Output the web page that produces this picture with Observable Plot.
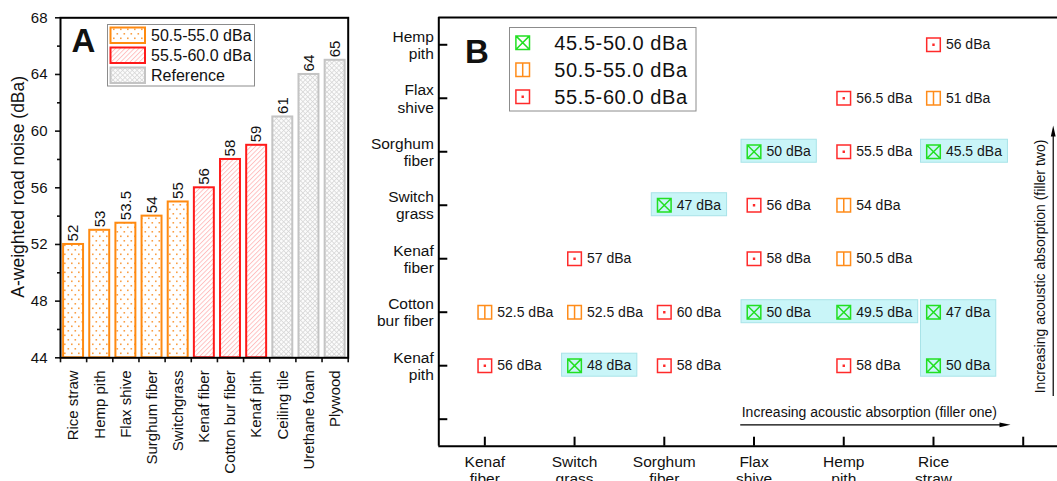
<!DOCTYPE html>
<html><head><meta charset="utf-8">
<script src="https://cdn.jsdelivr.net/npm/d3@7"></script>
<script src="https://cdn.jsdelivr.net/npm/@observablehq/plot@0.6"></script>
<style>
html,body{margin:0;padding:0;background:#fff;overflow:hidden}
#wrap{position:relative;width:1057px;height:481px;overflow:hidden}
#a{position:absolute;left:0;top:0}
#b{position:absolute;left:360px;top:0}
</style></head><body><div id="wrap"><div id="a"></div><div id="b"></div></div>
<script>
// ---------------- DATA ----------------
// Panel A
const materialsA = ["Rice straw","Hemp pith","Flax shive","Surghum fiber","Switchgrass","Kenaf fiber","Cotton bur fiber","Kenaf pith","Ceiling tile","Urethane foam","Plywood"];
const noiseA = [52,53,53.5,54,55,56,58,59,61,64,65];
const groupA = ["50.5-55.0 dBa","50.5-55.0 dBa","50.5-55.0 dBa","50.5-55.0 dBa","50.5-55.0 dBa","55.5-60.0 dBa","55.5-60.0 dBa","55.5-60.0 dBa","Reference","Reference","Reference"];
const groupsA = ["50.5-55.0 dBa","55.5-60.0 dBa","Reference"];
const yTicksA = [44,48,52,56,60,64,68];
const yMinorA = [46,50,54,58,62,66];
const yLabelA = "A-weighted road noise (dBa)";

// Panel B
const colsB = ["Kenaf fiber","Switch grass","Sorghum fiber","Flax shive","Hemp pith","Rice straw"];
const colLabelsB = ["Kenaf\nfiber","Switch\ngrass","Sorghum\nfiber","Flax\nshive","Hemp\npith","Rice\nstraw"];
const rowsB = ["Kenaf pith","Cotton bur fiber","Kenaf fiber","Switch grass","Sorghum fiber","Flax shive","Hemp pith"];
const rowLabelsB = ["Kenaf\npith","Cotton\nbur fiber","Kenaf\nfiber","Switch\ngrass","Sorghum\nfiber","Flax\nshive","Hemp\npith"];
const fillerTwo = ["Hemp pith","Flax shive","Flax shive","Sorghum fiber","Sorghum fiber","Sorghum fiber","Switch grass","Switch grass","Switch grass","Kenaf fiber","Kenaf fiber","Kenaf fiber","Cotton bur fiber","Cotton bur fiber","Cotton bur fiber","Cotton bur fiber","Cotton bur fiber","Cotton bur fiber","Kenaf pith","Kenaf pith","Kenaf pith","Kenaf pith","Kenaf pith"];
const fillerOne = ["Rice straw","Hemp pith","Rice straw","Flax shive","Hemp pith","Rice straw","Sorghum fiber","Flax shive","Hemp pith","Switch grass","Flax shive","Hemp pith","Kenaf fiber","Switch grass","Sorghum fiber","Flax shive","Hemp pith","Rice straw","Kenaf fiber","Switch grass","Sorghum fiber","Hemp pith","Rice straw"];
const noiseB = [56,56.5,51,50,55.5,45.5,47,56,54,57,58,50.5,52.5,52.5,60,50,49.5,47,56,48,58,58,50];
const levelsB = ["45.5-50.0 dBa","50.5-55.0 dBa","55.5-60.0 dBa"];
const highlightCols = [["Sorghum fiber"],["Switch grass"],["Flax shive"],["Rice straw"],["Flax shive","Hemp pith"],["Rice straw"]];
const highlightRows = [["Switch grass"],["Kenaf pith"],["Sorghum fiber"],["Sorghum fiber"],["Cotton bur fiber"],["Cotton bur fiber","Kenaf pith"]];
const annotOne = "Increasing acoustic absorption (filler one)";
const annotTwo = "Increasing acoustic absorption (filler two)";

// ---------------- STYLE ----------------
const FONT = '"Liberation Sans", Arial, Helvetica, sans-serif';
const styleA = {
  "50.5-55.0 dBa": {fill: "url(#pDots)", stroke: "#ff8a10"},
  "55.5-60.0 dBa": {fill: "url(#pHatch)", stroke: "#ff1a1a"},
  "Reference": {fill: "url(#pCross)", stroke: "#c4c4c4"}
};
const colorsB = ["#22e022", "#ff8c1a", "#ff2a2a"];
const H = 6.8;
const symbolsB = [
  {draw(c){ c.moveTo(-H,-H); c.lineTo(H,-H); c.lineTo(H,H); c.lineTo(-H,H); c.closePath(); c.moveTo(-H,-H); c.lineTo(H,H); c.moveTo(H,-H); c.lineTo(-H,H); }},
  {draw(c){ c.moveTo(-H,-H); c.lineTo(H,-H); c.lineTo(H,H); c.lineTo(-H,H); c.closePath(); c.moveTo(0,-H); c.lineTo(0,H); }},
  {draw(c){ c.moveTo(-H,-H); c.lineTo(H,-H); c.lineTo(H,H); c.lineTo(-H,H); c.closePath(); c.moveTo(-0.45,-0.45); c.lineTo(0.45,-0.45); c.lineTo(0.45,0.45); c.lineTo(-0.45,0.45); c.closePath(); }}
];
const arrowHead = {draw(c){ c.moveTo(0,0); c.lineTo(2.4,11); c.lineTo(-2.4,11); c.closePath(); }};

// ---------------- PANEL A ----------------
const WA = 360, HA = 481, mlA = 60, mrA = 12.3, mtA = 17.3, mbA = 123.7;
const yDomA = [44, 68];
const dataA = materialsA.map((m, i) => ({m, i, v: noiseA[i], g: groupA[i]}));

const svgA = Plot.plot({
  width: WA, height: HA, marginLeft: mlA, marginRight: mrA, marginTop: mtA, marginBottom: mbA,
  style: {fontFamily: FONT, fontSize: "15px", color: "#111", background: "transparent", overflow: "visible"},
  x: {domain: [0, materialsA.length], axis: null},
  y: {domain: yDomA, axis: null},
  marks: [
    ...groupsA.map(g => Plot.rect(dataA.filter(d => d.g === g), {
      x1: d => d.i, x2: d => d.i + 1, y1: () => yDomA[0], y2: "v",
      insetLeft: 3.1, insetRight: 3.1, fill: styleA[g].fill, stroke: styleA[g].stroke, strokeWidth: 2
    })),
    Plot.axisY(yTicksA, {tickSize: 5, tickPadding: 8, label: null, strokeWidth: 1.6, fontSize: 15}),
    Plot.axisY(yMinorA, {tickSize: 3, tickFormat: () => "", label: null, strokeWidth: 1.6}),
    Plot.axisX(d3.range(0, materialsA.length + 1), {tickSize: 5, tickFormat: () => "", label: null, strokeWidth: 1.6}),
    Plot.frame({stroke: "#000", strokeWidth: 2}),
    Plot.text(dataA, {x: d => d.i + 0.5, y: () => yDomA[0], text: "m", rotate: -90, textAnchor: "end", dy: 12.5, fontSize: 15}),
    Plot.text(dataA, {x: d => d.i + 0.5, y: "v", text: d => String(d.v), rotate: -90, textAnchor: "start", dy: -3, fontSize: 15}),
    Plot.text([yLabelA], {frameAnchor: "left", text: d => d, rotate: -90, textAnchor: "middle", lineAnchor: "middle", dx: -42, dy: -1, fontSize: 17.5})
  ]
});
document.getElementById("a").appendChild(svgA);

// patterns
const defs = d3.select(svgA).insert("defs", ":first-child");
const pd = defs.append("pattern").attr("id", "pDots").attr("patternUnits", "userSpaceOnUse").attr("width", 7).attr("height", 9);
pd.append("rect").attr("width", 7).attr("height", 9).attr("fill", "#fff");
pd.append("rect").attr("x", 1).attr("y", 1.5).attr("width", 1.6).attr("height", 1.6).attr("fill", "#fa9f45");
pd.append("rect").attr("x", 4.5).attr("y", 6).attr("width", 1.6).attr("height", 1.6).attr("fill", "#fa9f45");
const ph = defs.append("pattern").attr("id", "pHatch").attr("patternUnits", "userSpaceOnUse").attr("width", 3.3).attr("height", 4).attr("patternTransform", "rotate(45)");
ph.append("rect").attr("width", 3.3).attr("height", 4).attr("fill", "#fff");
ph.append("line").attr("x1", 0.5).attr("y1", 0).attr("x2", 0.5).attr("y2", 4).attr("stroke", "#ffacac").attr("stroke-width", 0.8);
const pc = defs.append("pattern").attr("id", "pCross").attr("patternUnits", "userSpaceOnUse").attr("width", 3.4).attr("height", 3.4).attr("patternTransform", "rotate(45)");
pc.append("rect").attr("width", 3.4).attr("height", 3.4).attr("fill", "#fbfbfb");
pc.append("line").attr("x1", 0.4).attr("y1", 0).attr("x2", 0.4).attr("y2", 3.4).attr("stroke", "#d6d6d6").attr("stroke-width", 0.8);
pc.append("line").attr("x1", 0).attr("y1", 0.4).attr("x2", 3.4).attr("y2", 0.4).attr("stroke", "#d6d6d6").attr("stroke-width", 0.8);

// legend A + letter
const gA = d3.select(svgA).append("g").attr("font-family", FONT).attr("fill", "#111").attr("text-anchor", "start");
gA.append("rect").attr("x", 107.5).attr("y", 24.5).attr("width", 147).attr("height", 61.5).attr("fill", "#fff").attr("stroke", "#8c8c8c").attr("stroke-width", 1);
groupsA.forEach((g, k) => {
  const y0 = 27 + k * 20;
  gA.append("rect").attr("x", 110.5).attr("y", y0 + 0.5).attr("width", 34.5).attr("height", 15.5)
    .attr("fill", styleA[g].fill).attr("stroke", styleA[g].stroke).attr("stroke-width", 2);
  gA.append("text").attr("x", 151).attr("y", y0 + 8.3).attr("dy", "0.36em").attr("font-size", 16).attr("text-anchor", "start").text(g);
});
gA.append("text").attr("x", 71.5).attr("y", 51.7).attr("font-size", 33).attr("font-weight", "bold").attr("text-anchor", "start").text("A");

// ---------------- PANEL B ----------------
const WB = 697, HB = 481, mlB = 78.3, mrB = 0, mtB = 17, mbB = 35.3;
const xDomB = [0.487, 7.382], yDomB = [-0.505, 7.51];
const frameWB = WB - mlB - mrB, frameHB = HB - mtB - mbB;
const pxX = frameWB / (xDomB[1] - xDomB[0]), pxY = frameHB / (yDomB[1] - yDomB[0]);
const levelOf = v => v <= 50 ? 0 : v <= 55 ? 1 : 2;
const dataB = noiseB.map((v, i) => ({
  col: colsB.indexOf(fillerOne[i]) + 1, row: rowsB.indexOf(fillerTwo[i]) + 1,
  c: fillerOne[i], r: fillerTwo[i], v, level: levelOf(v), label: v + " dBa"
}));
const ctx = document.createElement("canvas").getContext("2d");
ctx.font = "14px " + FONT;
const hl = highlightCols.map((cs, k) => {
  const cells = dataB.filter(d => cs.includes(d.c) && highlightRows[k].includes(d.r));
  return {
    x1: d3.min(cells, d => d.col) - 12.5 / pxX,
    x2: d3.max(cells, d => d.col + (12.4 + ctx.measureText(d.label).width + 6) / pxX),
    y1: d3.min(cells, d => d.row) - 11 / pxY,
    y2: d3.max(cells, d => d.row) + 12 / pxY
  };
});
const arrowOne = [{x1: 4 - 13.3 / pxX, x2: 7 - 12.7 / pxX, y: -5.6 / pxY}];
const arrowTwo = [{x: 7 + 30 / pxX, y1: 22.7 / pxY, y2: 293.7 / pxY}];

const svgB = Plot.plot({
  width: WB, height: HB, marginLeft: mlB, marginRight: mrB, marginTop: mtB, marginBottom: mbB,
  style: {fontFamily: FONT, fontSize: "15.5px", color: "#111", background: "transparent", overflow: "visible"},
  x: {domain: xDomB, axis: null},
  y: {domain: yDomB, axis: null},
  marks: [
    Plot.rect(hl, {x1: "x1", x2: "x2", y1: "y1", y2: "y2", fill: "#c9f5f8", stroke: "#a8e3e8", strokeWidth: 1}),
    ...levelsB.map((lv, k) => Plot.dot(dataB.filter(d => d.level === k), {
      x: "col", y: "row", r: 8, symbol: symbolsB[k], stroke: colorsB[k], fill: "none", strokeWidth: 1.5
    })),
    Plot.text(dataB, {x: "col", y: "row", text: "label", dx: 12.4, textAnchor: "start", fontSize: 14, fill: "#161616"}),
    Plot.ruleX([xDomB[0]], {stroke: "#000", strokeWidth: 2}),
    Plot.ruleY([yDomB[0], yDomB[1]], {stroke: "#000", strokeWidth: 2}),
    Plot.ruleY(d3.range(0, rowsB.length + 1), {y: d => d, insetRight: frameWB - 9, stroke: "#000", strokeWidth: 2}),
    Plot.ruleX(d3.range(1, colsB.length + 2), {x: d => d, insetTop: frameHB - 9, stroke: "#000", strokeWidth: 2}),
    Plot.text(colLabelsB, {x: (d, i) => i + 1, y: () => yDomB[0], text: d => d, lineAnchor: "top", dy: 8, fontSize: 15.5, lineHeight: 1.12}),
    Plot.text(rowLabelsB, {x: () => xDomB[0], y: (d, i) => i + 1, text: d => d, textAnchor: "end", dx: -5, lineAnchor: "middle", fontSize: 15.5, lineHeight: 1.12}),
    // annotations
    Plot.ruleY(arrowOne, {y: "y", x1: "x1", x2: d => d.x2 - 6 / pxX, stroke: "#000", strokeWidth: 1.2}),
    Plot.dot(arrowOne, {x: "x2", y: "y", r: 6, symbol: arrowHead, rotate: 90, fill: "#000", stroke: "none"}),
    Plot.text([annotOne], {x: () => arrowOne[0].x1 + 1 / pxX, y: () => 2 / pxY, text: d => d, textAnchor: "start", lineAnchor: "bottom", fontSize: 14}),
    Plot.ruleX(arrowTwo, {x: "x", y1: "y1", y2: d => d.y2 - 6 / pxY, stroke: "#000", strokeWidth: 1.2}),
    Plot.dot(arrowTwo, {x: "x", y: "y2", r: 6, symbol: arrowHead, fill: "#000", stroke: "none"}),
    Plot.text([annotTwo], {x: () => arrowTwo[0].x - 12.7 / pxX, y: () => 152.7 / pxY, text: d => d, rotate: -90, textAnchor: "middle", lineAnchor: "middle", fontSize: 14})
  ]
});
document.getElementById("b").appendChild(svgB);

// legend B + letter
const gB = d3.select(svgB).append("g").attr("font-family", FONT).attr("fill", "#111").attr("text-anchor", "start");
gB.append("rect").attr("x", 149.5).attr("y", 27.5).attr("width", 186.5).attr("height", 83.5).attr("fill", "#fff").attr("stroke", "#8c8c8c").attr("stroke-width", 1);
levelsB.forEach((lv, k) => {
  const yc = 42.7 + k * 27;
  gB.append("path").attr("transform", `translate(162.7,${yc})`).attr("d", d3.symbol(symbolsB[k], 64)())
    .attr("fill", "none").attr("stroke", colorsB[k]).attr("stroke-width", 1.5);
  gB.append("text").attr("x", 194.3).attr("y", yc).attr("dy", "0.36em").attr("font-size", 20).attr("letter-spacing", "0.6px").attr("text-anchor", "start").text(lv);
});
gB.append("text").attr("x", 105).attr("y", 62.7).attr("font-size", 33).attr("font-weight", "bold").attr("text-anchor", "start").text("B");
</script>
</body></html>
